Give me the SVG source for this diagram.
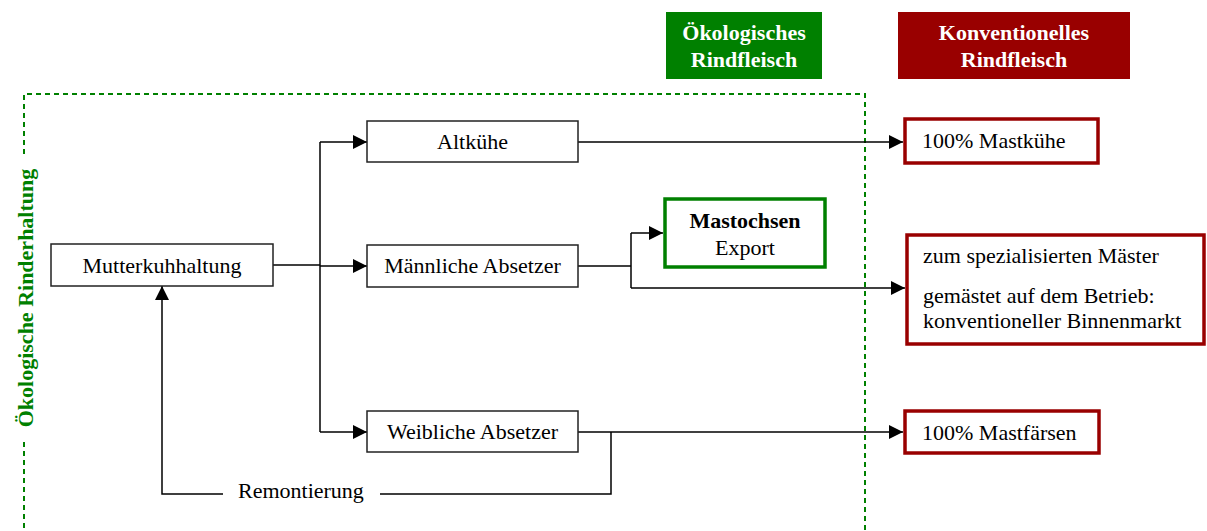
<svg xmlns="http://www.w3.org/2000/svg" width="1207" height="531" viewBox="0 0 1207 531">
<style>
text{font-family:"Liberation Serif","Times New Roman",serif;font-size:22px;fill:#000}
.b{font-weight:bold}
.w{fill:#fff;font-weight:bold}
.g{fill:#008000;font-weight:bold}
.box{fill:#fff;stroke:#222;stroke-width:1.5}
.red{fill:#fff;stroke:#990000;stroke-width:3.5}
.grn{fill:#fff;stroke:#008000;stroke-width:3.5}
.ln{fill:none;stroke:#000;stroke-width:1.5}
.dash{fill:none;stroke:#008000;stroke-width:2;stroke-dasharray:5,4}
</style>
<defs>
<marker id="ah" markerUnits="userSpaceOnUse" markerWidth="14" markerHeight="14" viewBox="0 0 14 14" refX="14" refY="7" orient="auto">
<path d="M0,0 L14,7 L0,14 Z" fill="#000"/>
</marker>
</defs>

<g id="hdr-oeko">
<rect x="666" y="12" width="156" height="67" fill="#008000"/>
<text class="w" x="744" y="40" text-anchor="middle">Ökologisches</text>
<text class="w" x="744" y="67" text-anchor="middle">Rindfleisch</text>
</g>
<g id="hdr-konv">
<rect x="898" y="12" width="232" height="67" fill="#990000"/>
<text class="w" x="1014" y="40" text-anchor="middle">Konventionelles</text>
<text class="w" x="1014" y="67" text-anchor="middle">Rindfleisch</text>
</g>

<g id="region-oeko">
<path class="dash" d="M24,154 V94 H865 V531"/>
<path class="dash" d="M24,442 V531"/>
<text class="g" transform="translate(33,298) rotate(-90)" text-anchor="middle">Ökologische Rinderhaltung</text>
</g>

<g id="connectors">
<path class="ln" d="M273,265 H320" stroke-width="2"/>
<path class="ln" d="M320,142 V432"/>
<path class="ln" d="M320,142 H367" marker-end="url(#ah)"/>
<path class="ln" d="M320,266 H367" marker-end="url(#ah)"/>
<path class="ln" d="M320,432 H367" marker-end="url(#ah)"/>
<path class="ln" d="M578,142 H903" marker-end="url(#ah)"/>
<path class="ln" d="M578,266 H631"/>
<path class="ln" d="M631,233 V288"/>
<path class="ln" d="M631,233 H663" marker-end="url(#ah)"/>
<path class="ln" d="M631,288 H905" marker-end="url(#ah)"/>
<path class="ln" d="M578,432 H903" marker-end="url(#ah)"/>
<path class="ln" d="M611,432 V494 H380"/>
<path class="ln" d="M223,494 H162 V286" marker-end="url(#ah)"/>
<text x="238" y="498">Remontierung</text>
</g>

<g id="n-mutterkuh">
<rect class="box" x="51" y="244" width="222" height="42"/>
<text x="162" y="273" text-anchor="middle">Mutterkuhhaltung</text>
</g>
<g id="n-altkuehe">
<rect class="box" x="367" y="121" width="211" height="41"/>
<text x="472.5" y="149" text-anchor="middle">Altkühe</text>
</g>
<g id="n-maennlich">
<rect class="box" x="367" y="245" width="211" height="42"/>
<text x="472.5" y="273" text-anchor="middle">Männliche Absetzer</text>
</g>
<g id="n-weiblich">
<rect class="box" x="367" y="411" width="211" height="41"/>
<text x="472.5" y="439" text-anchor="middle">Weibliche Absetzer</text>
</g>
<g id="n-mastochsen">
<rect class="grn" x="665" y="199" width="160" height="68"/>
<text class="b" x="745" y="228" text-anchor="middle">Mastochsen</text>
<text x="745" y="255" text-anchor="middle">Export</text>
</g>
<g id="n-mastkuehe">
<rect class="red" x="905" y="119" width="193" height="44"/>
<text x="922" y="148">100% Mastkühe</text>
</g>
<g id="n-maester">
<rect class="red" x="907" y="235" width="297" height="109"/>
<text x="923" y="263">zum spezialisierten Mäster</text>
<text x="923" y="303">gemästet auf dem Betrieb:</text>
<text x="923" y="328">konventioneller Binnenmarkt</text>
</g>
<g id="n-mastfaersen">
<rect class="red" x="905" y="411" width="194" height="42"/>
<text x="922" y="440">100% Mastfärsen</text>
</g>
</svg>
